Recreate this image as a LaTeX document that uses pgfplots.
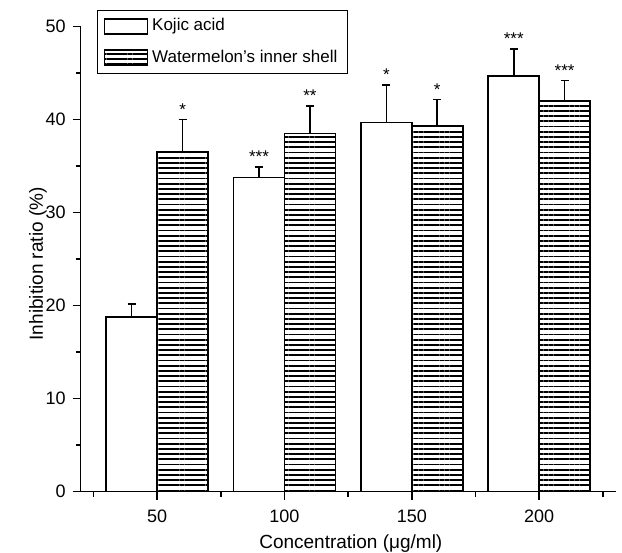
\documentclass[border=0pt]{standalone}
\usepackage{fontspec}
\setmainfont{Liberation Sans}
\usepackage{pgfplots}
\usepackage{pgfplotstable}
\pgfplotsset{compat=1.18}
\usetikzlibrary{patterns.meta}

% bars at concentration -/+ 10, width 20
\pgfplotstableread{
x   val   err
40  18.8  1.4
90  33.8  1.1
140 39.7  4.0
190 44.7  2.9
}\kojic
\pgfplotstableread{
x   val   err
60  36.5  3.5
110 38.5  3.0
160 39.3  2.85
210 42.0  2.2
}\melon
% significance marks, placed on the error caps
\pgfplotstableread{
x   y     lbl
60  40.0  *
90  34.9  ***
110 41.5  **
140 43.7  *
160 42.1  *
190 47.6  ***
210 44.2  ***
}\stars

\begin{document}
\begin{tikzpicture}
\begin{axis}[
  width=267.5pt, height=232.5pt, scale only axis,
  xmin=20, xmax=230, ymin=0, ymax=50,
  axis x line=bottom, axis y line=left,
  axis line style={-, line width=0.75pt},
  xtick={50,100,150,200}, minor xtick={25,75,125,175,225},
  ytick={0,10,...,50}, minor ytick={5,15,...,45},
  tick align=outside,
  major tick length=4pt, minor tick length=2.5pt,
  every tick/.style={black, line width=0.75pt},
  tick label style={font=\fontsize{9}{11}\selectfont, /pgf/number format/assume math mode=true},
  xticklabel style={yshift=-1.5pt},
  xlabel={Concentration (μg/ml)},
  ylabel={Inhibition ratio (\%)},
  label style={font=\fontsize{9.5}{11}\selectfont},
  xlabel style={at={(rel axis cs:0.505,-0.112)}, anchor=center},
  ylabel style={at={(rel axis cs:-0.08,0.49)}, anchor=center},
  legend cell align=left,
  legend style={at={(0.0305,1.036)}, anchor=north west, draw=black, line width=0.6pt,
    font=\fontsize{8.5}{10}\selectfont, inner xsep=3pt, inner ysep=2pt, row sep=4pt},
]
\addplot[ybar, bar width=20, bar shift=0pt, draw=black, fill=white, line width=0.8pt,
  legend image code/.code={\draw[black, fill=white, line width=0.8pt] (0pt,-3.75pt) rectangle (21.5pt,3.75pt);},
  error bars/.cd, y dir=plus, y explicit,
  error bar style={line width=0.8pt}, error mark options={rotate=90, mark size=2pt, line width=0.8pt}]
  table[x=x, y=val, y error=err] {\kojic};
\addplot[ybar, bar width=20, bar shift=0pt, draw=black, line width=0.8pt,
  pattern={Lines[angle=0, distance=2.6pt, line width=0.9pt]}, pattern color=black,
  legend image code/.code={\draw[black, line width=0.8pt, pattern={Lines[angle=0, distance=2.6pt, line width=0.9pt]}] (0pt,-3.75pt) rectangle (21.5pt,3.75pt);},
  error bars/.cd, y dir=plus, y explicit,
  error bar style={line width=0.8pt}, error mark options={rotate=90, mark size=2pt, line width=0.8pt}]
  table[x=x, y=val, y error=err] {\melon};
\addplot[draw=none, mark=none, forget plot, point meta=explicit symbolic,
  nodes near coords, nodes near coords align={above},
  every node near coord/.append style={font=\fontsize{8.5}{9}\selectfont, inner sep=2pt}]
  table[x=x, y=y, meta=lbl] {\stars};
\legend{Kojic acid, Watermelon's inner shell}
\coordinate (bl) at (rel axis cs:0,0);
\coordinate (tr) at (rel axis cs:1,1);
\end{axis}
\pgfresetboundingbox
\path ([shift={(-40.35pt,-30.65pt)}]bl) rectangle ([shift={(3.2pt,13.35pt)}]tr);
\end{tikzpicture}
\end{document}
